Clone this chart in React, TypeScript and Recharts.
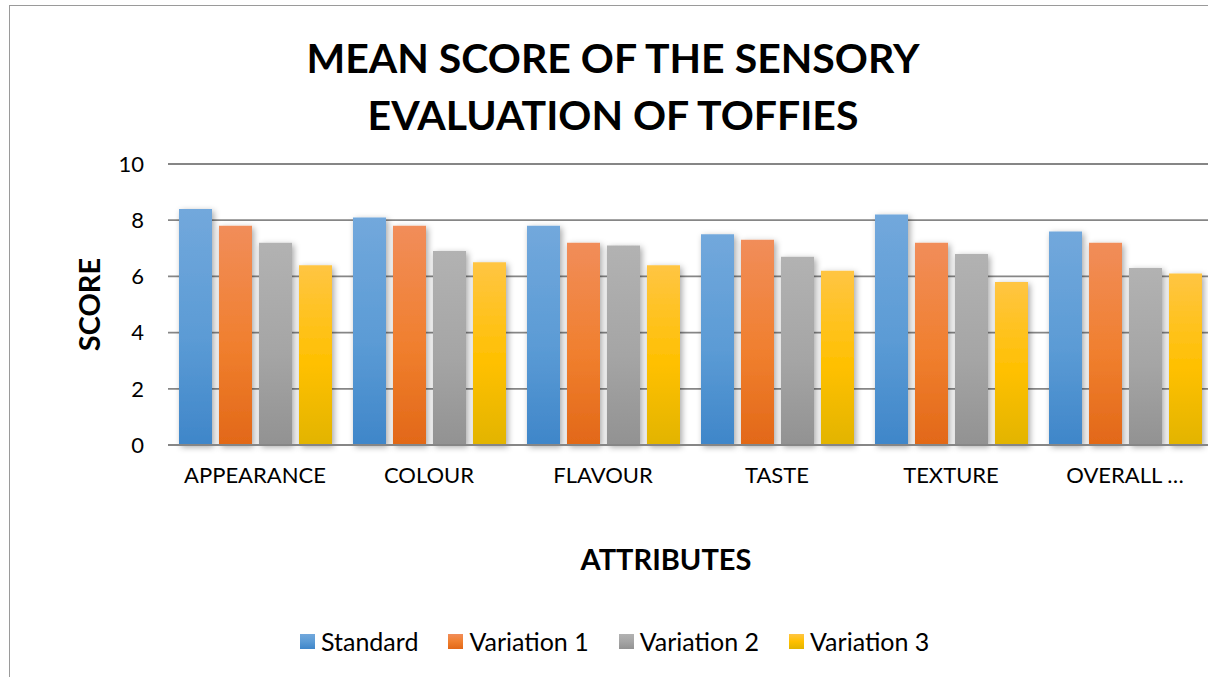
import React from 'react';
import {
    BarChart,
    Bar,
    XAxis,
    YAxis,
    CartesianGrid,
    Legend,
} from 'recharts';

const categories = ['APPEARANCE', 'COLOUR', 'FLAVOUR', 'TASTE', 'TEXTURE', 'OVERALL ACCEPTABILITY'];
const standard = [8.4, 8.1, 7.8, 7.5, 8.2, 7.6];
const variation1 = [7.8, 7.8, 7.2, 7.3, 7.2, 7.2];
const variation2 = [7.2, 6.9, 7.1, 6.7, 6.8, 6.3];
const variation3 = [6.4, 6.5, 6.4, 6.2, 5.8, 6.1];
const yTicks = [0, 2, 4, 6, 8, 10];

const series = [
    { key: 'Standard', values: standard, id: 'gStd', top: '#72a8dc', mid: '#5b9bd5', bottom: '#3f86c9' },
    { key: 'Variation 1', values: variation1, id: 'gV1', top: '#f18d5a', mid: '#f07f2e', bottom: '#e26818' },
    { key: 'Variation 2', values: variation2, id: 'gV2', top: '#b2b2b2', mid: '#a5a5a5', bottom: '#929292' },
    { key: 'Variation 3', values: variation3, id: 'gV3', top: '#ffc543', mid: '#ffc000', bottom: '#e2b400' },
];

const data = categories.map((name, i) => {
    const row: any = { name };
    series.forEach((s) => { row[s.key] = s.values[i]; });
    return row;
});

const font = 'Lato, "Noto Sans", sans-serif';

const shortLabel = (v: string) => (v.length > 12 ? v.split(' ')[0] + ' \u2026' : v);

const LegendContent = () => (
    <div style={{ display: 'flex', alignItems: 'center', fontFamily: font, fontSize: 25, color: '#000' }}>
        {series.map((s, i) => (
            <div key={s.key} style={{ display: 'flex', alignItems: 'center', marginRight: i < 3 ? 30 : 0 }}>
                <div
                    style={{
                        width: 15,
                        height: 15,
                        marginRight: 6,
                        background: `linear-gradient(${s.top}, ${s.mid}, ${s.bottom})`,
                    }}
                />
                <span>{s.key}</span>
            </div>
        ))}
    </div>
);

export default function App() {
    return (
        <div style={{ position: 'absolute', left: 0, top: 0, width: 1208, height: 677, overflow: 'hidden', background: '#fff' }}>
            <div style={{ position: 'absolute', left: 9, top: 5, width: 1300, height: 800, borderLeft: '1.5px solid #9a9a9a', borderTop: '1.5px solid #9a9a9a' }} />
            <div
                style={{
                    position: 'absolute',
                    left: 0,
                    top: 29,
                    width: 1226,
                    textAlign: 'center',
                    fontFamily: font,
                    fontWeight: 700,
                    fontSize: 41,
                    lineHeight: '57px',
                    color: '#000',
                }}
            >
                MEAN SCORE OF THE SENSORY
                <br />
                EVALUATION OF TOFFIES
            </div>
            <BarChart
                width={1215}
                height={677}
                data={data}
                margin={{ top: 164, right: 3, bottom: 0, left: 0 }}
                barCategoryGap={11}
                barGap={7}
                style={{ position: 'absolute', left: 0, top: 0 }}
            >
                <defs>
                    {series.map((s) => (
                        <linearGradient key={s.id} id={s.id} x1="0" y1="0" x2="0" y2="1">
                            <stop offset="0%" stopColor={s.top} />
                            <stop offset="55%" stopColor={s.mid} />
                            <stop offset="100%" stopColor={s.bottom} />
                        </linearGradient>
                    ))}
                    <filter id="barShadow" x="-30%" y="-10%" width="160%" height="130%">
                        <feDropShadow dx="2" dy="2" stdDeviation="3" floodColor="#000" floodOpacity="0.35" />
                    </filter>
                </defs>
                <CartesianGrid vertical={false} stroke="#868686" strokeWidth={1.8} />
                <XAxis
                    dataKey="name"
                    height={232}
                    tickSize={0}
                    tickMargin={22}
                    axisLine={{ stroke: '#868686', strokeWidth: 1.8 }}
                    tickFormatter={shortLabel}
                    tick={{ fill: '#000', fontSize: 22, fontFamily: font }}
                    label={{
                        value: 'ATTRIBUTES',
                        position: 'insideTop',
                        offset: 104,
                        dx: -24,
                        style: { fill: '#000', fontSize: 29, fontWeight: 700, fontFamily: font },
                    }}
                />
                <YAxis
                    width={168}
                    domain={[0, 10]}
                    ticks={yTicks}
                    tickSize={0}
                    tickMargin={24}
                    axisLine={false}
                    tick={{ fill: '#000', fontSize: 22, fontFamily: font }}
                    label={{
                        value: 'SCORE',
                        position: 'center',
                        angle: -90,
                        dx: 6,
                        style: { fill: '#000', fontSize: 29, fontWeight: 700, fontFamily: font, textAnchor: 'middle' },
                    }}
                />
                <Legend
                    layout="horizontal"
                    verticalAlign="middle"
                    align="center"
                    content={<LegendContent />}
                    wrapperStyle={{ position: 'absolute', top: 626, left: 300, width: 'auto' }}
                />
                {series.map((s) => (
                    <Bar
                        key={s.key}
                        dataKey={s.key}
                        fill={`url(#${s.id})`}
                        filter="url(#barShadow)"
                        isAnimationActive={false}
                    />
                ))}
            </BarChart>
        </div>
    );
}
